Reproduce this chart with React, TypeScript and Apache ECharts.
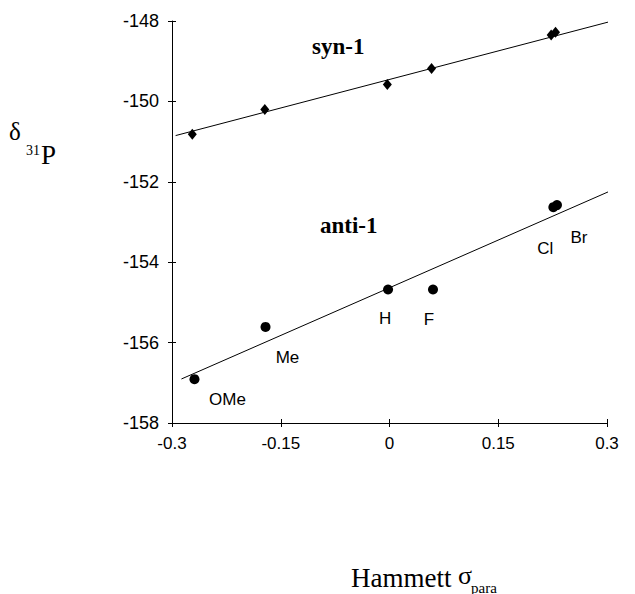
import React, { useEffect, useRef } from "react";
import * as echarts from "echarts";

// Hammett sigma_para values and 31P shifts
const substituents = ["OMe", "Me", "H", "F", "Cl", "Br"];
const sigmaSyn = [-0.272, -0.172, -0.003, 0.058, 0.223, 0.229];
const deltaSyn = [-150.82, -150.2, -149.58, -149.18, -148.35, -148.28];
const sigmaAnti = [-0.269, -0.171, -0.002, 0.06, 0.226, 0.231];
const deltaAnti = [-156.91, -155.61, -154.68, -154.68, -152.63, -152.58];
// fitted lines (end points)
const synFitX = [-0.295, 0.339];
const synFitY = [-150.85, -147.85];
const antiFitX = [-0.287, 0.339];
const antiFitY = [-156.905, -151.955];
const xTicks = [-0.3, -0.15, 0, 0.15, 0.3];
const yTicks = [-158, -156, -154, -152, -150, -148];

const labelOffsets: [number, number][] = [
  [33, 20],
  [22, 31],
  [-3, 29],
  [-4, 30],
  [-8, 41],
  [22, 32],
];

export default function App() {
  const ref = useRef<HTMLDivElement>(null);
  useEffect(() => {
    if (!ref.current) return;
    const chart = echarts.init(ref.current, null, { renderer: "svg" });
    const sans = "'Liberation Sans', Arial, sans-serif";
    const serif = "'Liberation Serif', 'Times New Roman', serif";
    const xMin = xTicks[0];
    const xMax = xTicks[xTicks.length - 1];
    const yMin = yTicks[0];
    const yMax = yTicks[yTicks.length - 1];
    const baseX = {
      type: "value",
      min: xMin,
      max: xMax,
      interval: 0.15,
      splitLine: { show: false },
    };
    const baseY = {
      type: "value",
      min: yMin,
      max: yMax,
      interval: 2,
      splitLine: { show: false },
    };
    chart.setOption({
      animation: false,
      backgroundColor: "#ffffff",
      grid: { left: 172, right: 28, top: 21, bottom: 171, containLabel: false },
      xAxis: [
        {
          ...baseX,
          axisLine: { show: true, onZero: false, lineStyle: { color: "#000", width: 1 } },
          axisTick: { show: true, length: 4, lineStyle: { color: "#000" } },
          axisLabel: {
            color: "#000",
            fontFamily: sans,
            fontSize: 17,
            margin: 12,
            formatter: (v: number) => String(Math.round(v * 100) / 100),
          },
        },
        {
          ...baseX,
          position: "bottom",
          axisLine: { show: false, onZero: false },
          axisTick: { show: true, inside: true, length: 4, lineStyle: { color: "#000" } },
          axisLabel: { show: false },
        },
      ],
      yAxis: [
        {
          ...baseY,
          axisLine: { show: true, onZero: false, lineStyle: { color: "#000", width: 1 } },
          axisTick: { show: true, length: 4, lineStyle: { color: "#000" } },
          axisLabel: { color: "#000", fontFamily: sans, fontSize: 18, margin: 13 },
        },
        {
          ...baseY,
          position: "left",
          axisLine: { show: false, onZero: false },
          axisTick: { show: true, inside: true, length: 4, lineStyle: { color: "#000" } },
          axisLabel: { show: false },
        },
      ],
      series: [
        {
          type: "line",
          data: synFitX.map((x, i) => [x, synFitY[i]]),
          showSymbol: false,
          symbol: "none",
          clip: false,
          lineStyle: { color: "#000", width: 1 },
          silent: true,
        },
        {
          type: "line",
          data: antiFitX.map((x, i) => [x, antiFitY[i]]),
          showSymbol: false,
          symbol: "none",
          clip: false,
          lineStyle: { color: "#000", width: 1 },
          silent: true,
        },
        {
          type: "scatter",
          symbol: "diamond",
          symbolSize: [9, 11],
          itemStyle: { color: "#000", opacity: 1 },
          data: sigmaSyn.map((x, i) => [x, deltaSyn[i]]),
        },
        {
          type: "scatter",
          symbol: "circle",
          symbolSize: 10,
          itemStyle: { color: "#000", opacity: 1 },
          data: sigmaAnti.map((x, i) => ({
            value: [x, deltaAnti[i]],
            label: {
              show: true,
              formatter: substituents[i],
              position: "inside",
              offset: labelOffsets[i],
              color: "#000",
              textBorderWidth: 0,
              fontFamily: sans,
              fontSize: 17,
            },
          })),
        },
      ],
      graphic: [
        {
          type: "text",
          left: 312,
          top: 35,
          style: { text: "syn-1", font: `bold 23px ${serif}`, fill: "#000" },
        },
        {
          type: "text",
          left: 320,
          top: 214,
          style: { text: "anti-1", font: `bold 23px ${serif}`, fill: "#000" },
        },
        {
          type: "text",
          left: 9,
          top: 119,
          style: { text: "δ", font: `25px ${serif}`, fill: "#000" },
        },
        {
          type: "text",
          left: 26,
          top: 143,
          style: { text: "31", font: `14px ${serif}`, fill: "#000" },
        },
        {
          type: "text",
          left: 41,
          top: 141,
          style: { text: "P", font: `27px ${serif}`, fill: "#000" },
        },
        {
          type: "text",
          left: 351,
          top: 564,
          style: { text: "Hammett", font: `27px ${serif}`, fill: "#000" },
        },
        {
          type: "text",
          left: 458,
          top: 562,
          style: { text: "σ", font: `26px ${serif}`, fill: "#000" },
        },
        {
          type: "text",
          left: 471,
          top: 580,
          style: { text: "para", font: `15px ${serif}`, fill: "#000" },
        },
      ],
    });
    return () => chart.dispose();
  }, []);
  return (
    <div
      ref={ref}
      style={{ position: "absolute", left: 0, top: 0, width: 635, height: 594 }}
    />
  );
}
